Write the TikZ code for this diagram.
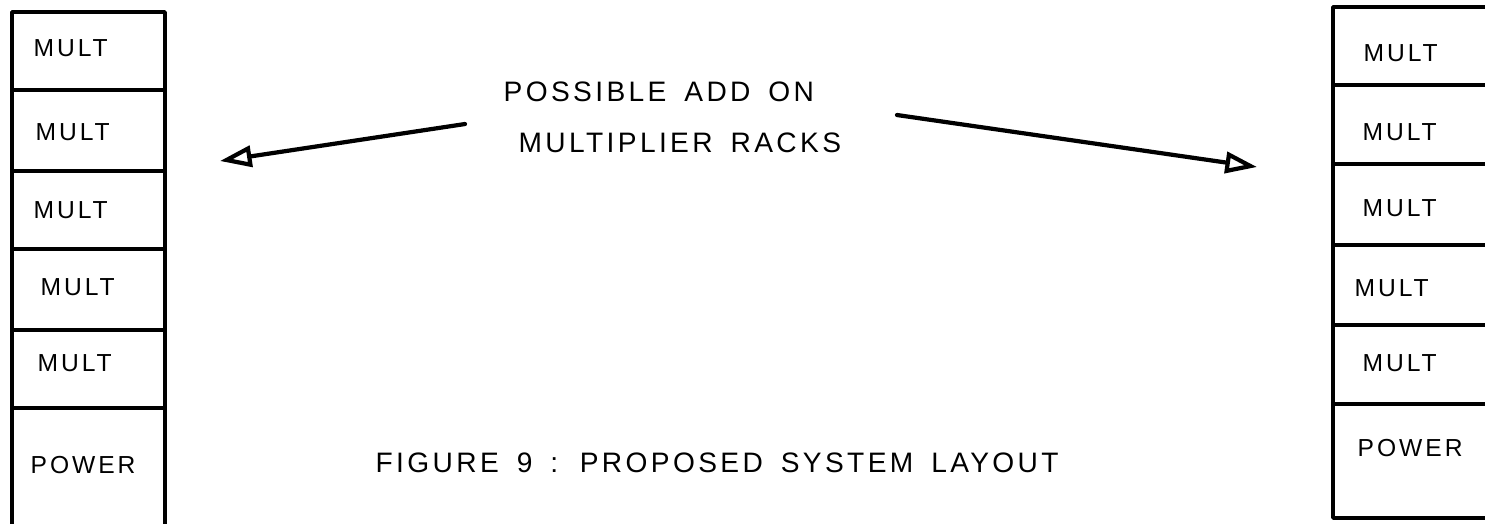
\documentclass[tikz,border=0pt]{standalone}
\usepackage{fontspec}
\setmainfont{Liberation Sans}[LetterSpace=12,WordSpace=1.6]
\usetikzlibrary{arrows.meta}
\tikzset{
	rackline/.style={line width=1pt},
	unitlabel/.style={anchor=west, inner sep=0pt, font=\fontsize{7}{8}\selectfont},
	note/.style={anchor=west, inner sep=0pt},
}
\begin{document}
\begin{tikzpicture}[x=0.01cm, y=-0.01cm, font=\fontsize{8}{9}\selectfont, line join=round, line cap=round, >={Triangle[open,length=9pt,width=6pt]}]
	\def\xmin{0}\def\xmax{1485}\def\ymin{0}\def\ymax{523}
	\useasboundingbox (\xmin,\ymin) rectangle (\xmax,\ymax);
	\clip (\xmin,\ymin) rectangle (\xmax,\ymax);
	\path
	(465,124) coordinate (A_1)
	(220,161) coordinate (B_1)
	(897,115) coordinate (A_2)
	(1257,167) coordinate (B_2)
	;
	% left rack, open at the bottom
	\draw[rackline] (12,540) |- (165,12) -- (165,540);
	\foreach \y in {90,171,249,330,408} \draw[rackline] (12,\y) -- (165,\y);
	% right rack, cut by the page edge
	\draw[rackline] (1333,7) rectangle (1500,518);
	\foreach \y in {85,164,245,325,404} \draw[rackline] (1333,\y) -- (1500,\y);
	% unit labels
	\foreach \x/\y/\t [count=\i] in {33/48/MULT,35/132/MULT,33/210/MULT,40/287/MULT,37/363/MULT,30/465/POWER}
		\node[unitlabel] (L_\i) at (\x,\y) {\t};
	\foreach \x/\y/\t [count=\i] in {1363/53/MULT,1362/132/MULT,1362/208/MULT,1354/288/MULT,1362/363/MULT,1357/448/POWER}
		\node[unitlabel] (R_\i) at (\x,\y) {\t};
	% add on note
	\node[note] (addon) at (503,92) {POSSIBLE ADD ON};
	\node[note] (racks) at (518,143) {MULTIPLIER RACKS};
	\draw[->, line width=1.2pt] (A_1) -- (B_1);
	\draw[->, line width=1.2pt] (A_2) -- (B_2);
	% caption
	\node[note] (caption) at (375,463) {FIGURE 9 : PROPOSED SYSTEM LAYOUT};
\end{tikzpicture}
\end{document}
